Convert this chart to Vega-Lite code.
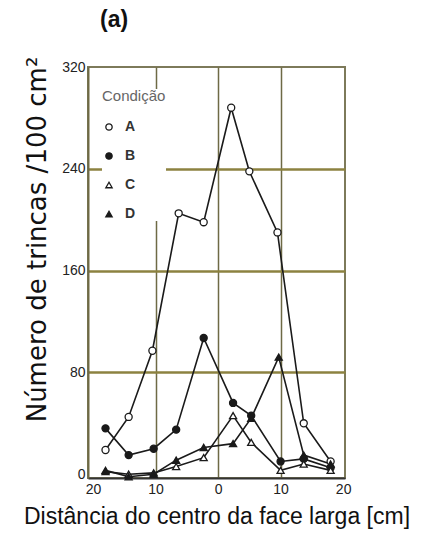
{
  "$schema": "https://vega.github.io/schema/vega-lite/v6.json",
  "width": 257,
  "height": 411,
  "autosize": {"type": "none"},
  "padding": {"left": 88, "top": 67, "right": 80, "bottom": 74},
  "background": "white",
  "title": {"text": "(a)", "anchor": "start", "frame": "group", "dx": 12, "offset": 24, "fontSize": 23, "fontWeight": "bold", "font": "Liberation Sans", "color": "#111"},
  "config": {
    "view": {"stroke": "#7d7a5a", "strokeWidth": 2},
    "axis": {"labelFont": "Liberation Sans", "titleFont": "Liberation Sans", "labelColor": "#222", "titleColor": "#111", "titleFontWeight": "normal"}
  },
  "data": {"values": [
    {"s": "A", "x": -18, "y": 19}, {"s": "A", "x": -14.3, "y": 45}, {"s": "A", "x": -10.5, "y": 97}, {"s": "A", "x": -6.3, "y": 205}, {"s": "A", "x": -2.3, "y": 198}, {"s": "A", "x": 2.1, "y": 288}, {"s": "A", "x": 5, "y": 238}, {"s": "A", "x": 9.5, "y": 190}, {"s": "A", "x": 13.7, "y": 40}, {"s": "A", "x": 18, "y": 10},
    {"s": "B", "x": -18, "y": 36}, {"s": "B", "x": -14.3, "y": 15}, {"s": "B", "x": -10.3, "y": 20}, {"s": "B", "x": -6.7, "y": 35}, {"s": "B", "x": -2.3, "y": 107}, {"s": "B", "x": 2.4, "y": 56}, {"s": "B", "x": 5.3, "y": 46}, {"s": "B", "x": 10, "y": 10}, {"s": "B", "x": 13.7, "y": 12}, {"s": "B", "x": 18, "y": 5},
    {"s": "C", "x": -18, "y": 2}, {"s": "C", "x": -14.3, "y": 0}, {"s": "C", "x": -10.3, "y": 1}, {"s": "C", "x": -6.7, "y": 6}, {"s": "C", "x": -2.3, "y": 13}, {"s": "C", "x": 2.4, "y": 46}, {"s": "C", "x": 5.3, "y": 25}, {"s": "C", "x": 10, "y": 3}, {"s": "C", "x": 13.7, "y": 8}, {"s": "C", "x": 18, "y": 3},
    {"s": "D", "x": -18, "y": 3}, {"s": "D", "x": -14.3, "y": -2}, {"s": "D", "x": -10.3, "y": 0}, {"s": "D", "x": -6.7, "y": 11}, {"s": "D", "x": -2.3, "y": 21}, {"s": "D", "x": 2.4, "y": 24}, {"s": "D", "x": 5.3, "y": 44}, {"s": "D", "x": 9.7, "y": 92}, {"s": "D", "x": 13.7, "y": 15}, {"s": "D", "x": 18, "y": 8}
  ]},
  "encoding": {
    "x": {"field": "x", "type": "quantitative", "scale": {"domain": [-20.8, 20.3], "nice": false, "zero": false},
      "axis": {"values": [-20, -10, 0, 10, 20], "labelExpr": "abs(datum.value)", "labelFontSize": 14, "labelPadding": 4, "tickSize": 0,
        "title": "Distância do centro da face larga [cm]", "titleFontSize": 23, "titlePadding": 9,
        "domainColor": "#333", "domainWidth": 2,
        "gridColor": {"condition": {"test": "abs(datum.value) == 20", "value": "transparent"}, "value": "#6e6a45"}, "gridWidth": 1.5, "grid": true}},
    "y": {"field": "y", "type": "quantitative", "scale": {"domain": [-3, 320], "nice": false, "zero": false},
      "axis": {"values": [0, 80, 160, 240, 320], "labelFontSize": 14, "labelPadding": 3, "tickSize": 0,
        "title": "Número de trincas /100 cm²", "titleFont": "DejaVu Sans", "titleFontSize": 26, "titleX": -43, "titleY": 172, "titleBaseline": "alphabetic", "titleAlign": "center", "titleAngle": -90,
        "domainColor": "#6e6a45", "domainWidth": 2,
        "gridColor": {"condition": {"test": "datum.value == 0 || datum.value == 320", "value": "transparent"}, "value": "#8c8240"}, "gridWidth": 2.5, "grid": true}}
  },
  "layer": [
    {"mark": {"type": "line", "color": "#1a1a1a", "strokeWidth": 1.6}, "encoding": {"detail": {"field": "s"}}},
    {"mark": {"type": "point", "strokeWidth": 1.3, "size": 50, "opacity": 1},
      "encoding": {
        "shape": {"field": "s", "type": "nominal", "scale": {"domain": ["A", "B", "C", "D"], "range": ["circle", "circle", "triangle-up", "triangle-up"]},
          "legend": {"title": "Condição", "orient": "none", "legendX": 14, "legendY": 22, "fillColor": "white", "padding": 0,
            "titleFont": "Liberation Sans", "titleFontSize": 15, "titleFontWeight": "normal", "titleColor": "#666", "titlePadding": 16,
            "labelFont": "Liberation Sans", "labelFontSize": 14, "labelFontWeight": "bold", "labelColor": "#333", "rowPadding": 15, "symbolSize": 40, "symbolStrokeWidth": 1.3, "labelOffset": 9}},
        "fill": {"field": "s", "type": "nominal", "scale": {"domain": ["A", "B", "C", "D"], "range": ["white", "#1a1a1a", "white", "#1a1a1a"]},
          "legend": {"title": "Condição", "orient": "none", "legendX": 14, "legendY": 22}},
        "stroke": {"field": "s", "type": "nominal", "scale": {"domain": ["A", "B", "C", "D"], "range": ["#1a1a1a", "#1a1a1a", "#1a1a1a", "#1a1a1a"]},
          "legend": {"title": "Condição", "orient": "none", "legendX": 14, "legendY": 22}}
      }}
  ]
}
